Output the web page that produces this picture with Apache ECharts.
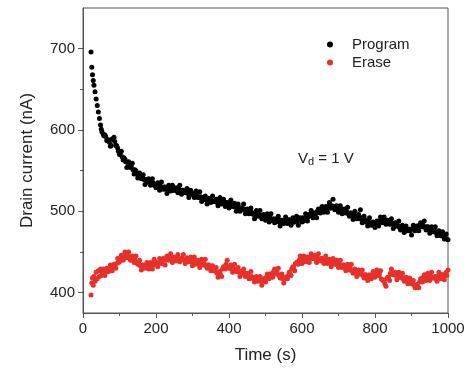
<!DOCTYPE html>
<html>
<head>
    <meta charset="utf-8">
    <title>Drain current vs time</title>
    <script type="text/javascript" src="https://cdn.jsdelivr.net/npm/echarts@6/dist/echarts.min.js"></script>
    <style>
        html, body { margin: 0; padding: 0; background: #fff; }
    </style>
</head>
<body>
    <div id="main" style="width: 472px;height:369px;"></div>
    <script type="text/javascript">
        // time (s), current (nA)
        var programData = [
            [22,696],[24,677],[26,668],[28,661],[30,655],[33,647],[36,638],[39,630],[42,622],[45,614],[48,606],
            [50,601],[55,595],[60,594],[65,587],[70,588],[75,580],[80,589],[85,591],[90,581],[95,578],
            [100,570],[105,574],[110,563],[115,564],[120,554],[125,561],[130,554],[135,559],[140,546],[145,550],
            [150,541],[155,547],[160,540],[165,545],[170,533],[175,537],[180,540],[185,532],[190,540],[195,532],
            [200,529],[205,535],[210,526],[215,536],[220,527],[225,530],[230,522],[235,532],[240,525],[245,532],
            [250,526],[255,529],[260,523],[265,532],[270,521],[275,526],[280,523],[285,528],[290,517],[295,526],
            [300,521],[305,517],[310,525],[315,517],[320,524],[325,512],[330,517],[335,519],[340,509],[345,516],
            [350,511],[355,519],[360,512],[365,515],[370,507],[375,517],[380,509],[385,515],[390,506],[395,511],
            [400,504],[405,514],[410,506],[415,510],[420,500],[425,509],[430,500],[435,504],[440,509],[445,497],
            [450,503],[455,497],[460,504],[465,497],[470,491],[475,501],[480,494],[485,501],[490,491],[495,496],
            [500,489],[505,497],[510,487],[515,497],[520,489],[525,486],[530,491],[535,494],[540,482],[545,489],
            [550,485],[555,493],[560,485],[565,490],[570,483],[575,492],[580,487],[585,494],[590,483],[595,492],
            [600,487],[605,488],[610,497],[615,488],[620,496],[625,501],[630,492],[635,498],[640,492],[645,503],
            [650,498],[655,506],[660,499],[665,506],[670,499],[675,511],[680,504],[685,515],[690,502],[695,507],
            [700,499],[705,507],[710,497],[715,503],[720,498],[725,505],[730,494],[735,498],[740,490],[745,500],
            [750,491],[755,496],[760,502],[765,486],[770,494],[775,487],[780,482],[785,492],[790,483],[795,487],
            [800,480],[805,488],[810,482],[815,493],[820,486],[825,493],[830,484],[835,489],[840,484],[845,491],
            [850,479],[855,486],[860,482],[865,488],[870,477],[875,483],[880,474],[885,482],[890,476],[895,478],
            [900,471],[905,483],[910,476],[915,482],[920,476],[925,486],[930,481],[935,488],[940,477],[945,481],
            [950,473],[955,481],[960,475],[965,481],[970,470],[975,476],[980,470],[985,475],[990,466],[995,472],
            [1000,465]
        ];
        // in-between readings of the same run
        var programData2 = [
            [52,598],[57,593],[62,592],[67,587],[72,585],[77,581],[82,589],[87,586],[92,581],[97,574],
            [102,572],[107,567],[112,566],[117,561],[122,560],[127,555],[132,555],[137,551],[142,551],[147,546],
            [152,546],[157,542],[162,542],[167,539],[172,539],[177,536],[182,537],[187,534],[192,535],[197,532],
            [202,533],[207,530],[212,531],[217,529],[222,530],[227,527],[232,529],[237,527],[242,528],[247,526],
            [252,528],[257,525],[262,528],[267,525],[272,526],[277,524],[282,525],[287,522],[292,523],[297,521],
            [302,522],[307,519],[312,520],[317,517],[322,518],[327,515],[332,516],[337,514],[342,515],[347,513],
            [352,514],[357,512],[362,513],[367,511],[372,513],[377,510],[382,512],[387,509],[392,511],[397,508],
            [402,510],[407,507],[412,508],[417,505],[422,506],[427,503],[432,504],[437,502],[442,503],[447,500],
            [452,501],[457,498],[462,499],[467,496],[472,497],[477,495],[482,496],[487,494],[492,495],[497,492],
            [502,494],[507,491],[512,492],[517,489],[522,491],[527,488],[532,490],[537,487],[542,489],[547,487],
            [552,488],[557,486],[562,488],[567,487],[572,489],[577,487],[582,490],[587,488],[592,491],[597,489],
            [602,492],[607,491],[612,494],[617,493],[622,496],[627,495],[632,498],[637,497],[642,500],[647,499],
            [652,502],[657,501],[662,504],[667,503],[672,506],[677,504],[682,507],[687,505],[692,506],[697,503],
            [702,504],[707,501],[712,502],[717,499],[722,500],[727,497],[732,498],[737,495],[742,496],[747,493],
            [752,494],[757,491],[762,492],[767,489],[772,490],[777,487],[782,488],[787,485],[792,486],[797,483],
            [802,486],[807,485],[812,488],[817,487],[822,490],[827,488],[832,489],[837,486],[842,487],[847,484],
            [852,485],[857,482],[862,483],[867,480],[872,481],[877,478],[882,479],[887,477],[892,478],[897,476],
            [902,479],[907,478],[912,481],[917,480],[922,483],[927,481],[932,483],[937,480],[942,481],[947,478],
            [952,479],[957,476],[962,477],[967,474],[972,475],[977,472],[982,472],[987,469],[992,470],[997,466]
        ];
        var eraseData = [
            [22,397],[24,412],[26,418],[28,409],[30,420],[33,414],[36,425],[39,417],[42,427],[45,420],[48,429],
            [50,421],[55,429],[60,421],[65,430],[70,426],[75,434],[80,427],[85,435],[90,430],[95,442],
            [100,438],[105,446],[110,440],[115,450],[120,443],[125,450],[130,440],[135,445],[140,437],[145,445],
            [150,435],[155,440],[160,428],[165,434],[170,430],[175,437],[180,429],[185,437],[190,429],[195,441],
            [200,434],[205,432],[210,442],[215,436],[220,442],[225,434],[230,445],[235,440],[240,448],[245,437],
            [250,444],[255,439],[260,447],[265,438],[270,442],[275,447],[280,436],[285,443],[290,438],[295,444],
            [300,433],[305,444],[310,435],[315,440],[320,431],[325,441],[330,434],[335,441],[340,430],[345,434],
            [350,427],[355,433],[360,427],[365,431],[370,419],[375,426],[380,420],[385,432],[390,429],[395,440],
            [400,430],[405,434],[410,425],[415,435],[420,426],[425,431],[430,420],[435,426],[440,429],[445,420],
            [450,424],[455,417],[460,426],[465,418],[470,413],[475,420],[480,414],[485,420],[490,409],[495,417],
            [500,413],[505,423],[510,417],[515,423],[520,419],[525,429],[530,423],[535,430],[540,418],[545,423],
            [550,412],[555,419],[560,417],[565,425],[570,421],[575,432],[580,427],[585,437],[590,435],[595,445],
            [600,436],[605,445],[610,438],[615,444],[620,437],[625,448],[630,442],[635,446],[640,437],[645,448],
            [650,439],[655,442],[660,436],[665,445],[670,436],[675,441],[680,432],[685,442],[690,435],[695,440],
            [700,431],[705,440],[710,431],[715,434],[720,427],[725,435],[730,428],[735,435],[740,424],[745,429],
            [750,420],[755,428],[760,423],[765,428],[770,418],[775,422],[780,415],[785,422],[790,417],[795,426],
            [800,419],[805,428],[810,421],[815,427],[820,416],[825,415],[830,408],[835,419],[840,415],[845,429],
            [850,422],[855,425],[860,416],[865,425],[870,419],[875,424],[880,414],[885,419],[890,411],[895,418],
            [900,411],[905,415],[910,406],[915,410],[920,406],[925,417],[930,413],[935,422],[940,415],[945,424],
            [950,415],[955,425],[960,418],[965,420],[970,414],[975,425],[980,417],[985,422],[990,416],[995,425],
            [1000,428]
        ];
        var eraseData2 = [
            [52,425],[57,424],[62,427],[67,426],[72,429],[77,428],[82,432],[87,432],[92,436],[97,437],
            [102,442],[107,442],[112,445],[117,444],[122,446],[127,443],[132,444],[137,441],[142,441],[147,437],
            [152,437],[157,433],[162,434],[167,431],[172,433],[177,432],[182,435],[187,433],[192,436],[197,434],
            [202,437],[207,436],[212,439],[217,438],[222,441],[227,440],[232,442],[237,441],[242,443],[247,441],
            [252,443],[257,441],[262,443],[267,440],[272,442],[277,440],[282,441],[287,439],[292,441],[297,438],
            [302,440],[307,437],[312,439],[317,436],[322,438],[327,435],[332,436],[337,433],[342,434],[347,431],
            [352,431],[357,427],[362,427],[367,424],[372,425],[377,422],[382,429],[387,432],[392,435],[397,431],
            [402,432],[407,429],[412,430],[417,427],[422,428],[427,425],[432,426],[437,423],[442,424],[447,421],
            [452,422],[457,419],[462,420],[467,417],[472,418],[477,415],[482,416],[487,414],[492,416],[497,415],
            [502,419],[507,419],[512,423],[517,423],[522,426],[527,424],[532,425],[537,421],[542,421],[547,417],
            [552,418],[557,417],[562,421],[567,423],[572,429],[577,431],[582,436],[587,436],[592,440],[597,439],
            [602,442],[607,441],[612,443],[617,442],[622,444],[627,442],[632,444],[637,441],[642,443],[647,440],
            [652,442],[657,439],[662,441],[667,438],[672,440],[677,437],[682,439],[687,436],[692,438],[697,435],
            [702,436],[707,433],[712,434],[717,431],[722,432],[727,429],[732,430],[737,427],[742,428],[747,425],
            [752,426],[757,423],[762,424],[767,421],[772,422],[777,419],[782,420],[787,418],[792,421],[797,421],
            [802,425],[807,423],[812,423],[817,417],[822,415],[827,411],[832,417],[837,419],[842,424],[847,423],
            [852,424],[857,421],[862,422],[867,419],[872,420],[877,417],[882,418],[887,415],[892,416],[897,413],
            [902,413],[907,409],[912,409],[917,408],[922,413],[927,414],[932,419],[937,419],[942,422],[947,420],
            [952,421],[957,418],[962,419],[967,417],[972,420],[977,419],[982,422],[987,420],[992,422],[997,421]
        ];
        var yMajor = [400, 500, 600, 700];
        var yMinor = [450, 550, 650];

        var chartDom = document.getElementById('main');
        var myChart = echarts.init(chartDom);
        var font = 'Liberation Sans, Arial, sans-serif';
        var black = '#000';
        var red = '#e8302a';
        var option = {
            animation: false,
            textStyle: { fontFamily: font },
            grid: {
                left: 83, right: 24, top: 8, bottom: 54,
                show: true, borderColor: '#555', borderWidth: 1
            },
            legend: {
                orient: 'vertical',
                left: 322, top: 32,
                icon: 'circle',
                itemWidth: 6, itemHeight: 6,
                itemGap: 3,
                textStyle: { fontSize: 15, color: '#222', fontFamily: font, padding: [0, 0, 0, 14] },
                data: ['Program', 'Erase']
            },
            xAxis: {
                type: 'value',
                min: 0, max: 1000, interval: 200,
                name: 'Time (s)',
                nameLocation: 'middle',
                nameGap: 34,
                nameTextStyle: { fontSize: 17, color: '#222', fontFamily: font },
                axisLine: { lineStyle: { color: '#555' } },
                axisTick: { inside: false, length: 5, lineStyle: { color: '#555' } },
                minorTick: { show: true, splitNumber: 2, length: 3, lineStyle: { color: '#555' } },
                axisLabel: {
                    fontSize: 15, color: '#222', margin: 8, fontFamily: font,
                    formatter: function (v) { return String(v); }
                },
                splitLine: { show: false }
            },
            yAxis: [{
                type: 'value',
                min: 375, max: 750,
                name: 'Drain current (nA)',
                nameLocation: 'middle',
                nameGap: 47,
                nameTextStyle: { fontSize: 17, color: '#222', fontFamily: font },
                axisLine: { show: true, lineStyle: { color: '#555' } },
                axisTick: { show: true, length: 5, customValues: yMajor, lineStyle: { color: '#555' } },
                axisLabel: { fontSize: 15, color: '#222', margin: 8, customValues: yMajor, fontFamily: font },
                splitLine: { show: false }
            }, {
                type: 'value',
                min: 375, max: 750,
                position: 'left',
                axisLine: { show: false },
                axisTick: { show: true, length: 3, customValues: yMinor, lineStyle: { color: '#555' } },
                axisLabel: { show: false },
                splitLine: { show: false }
            }],
            graphic: [{
                type: 'text',
                left: 298, top: 151,
                style: {
                    text: 'V{sub|d} = 1 V',
                    font: '15px ' + font,
                    fill: '#222',
                    rich: {
                        sub: { fontSize: 11, verticalAlign: 'bottom', padding: [6, 0, 0, 0], fill: '#222' }
                    }
                }
            }],
            series: [{
                name: 'Program',
                type: 'scatter',
                symbolSize: 5,
                itemStyle: { color: black, opacity: 1 },
                data: programData
            }, {
                name: 'Program',
                type: 'scatter',
                symbolSize: 5,
                itemStyle: { color: black, opacity: 1 },
                data: programData2
            }, {
                name: 'Erase',
                type: 'scatter',
                symbolSize: 5,
                itemStyle: { color: red, opacity: 1 },
                data: eraseData
            }, {
                name: 'Erase',
                type: 'scatter',
                symbolSize: 5,
                itemStyle: { color: red, opacity: 1 },
                data: eraseData2
            }]
        };
        myChart.setOption(option);
    </script>
</body>
</html>
